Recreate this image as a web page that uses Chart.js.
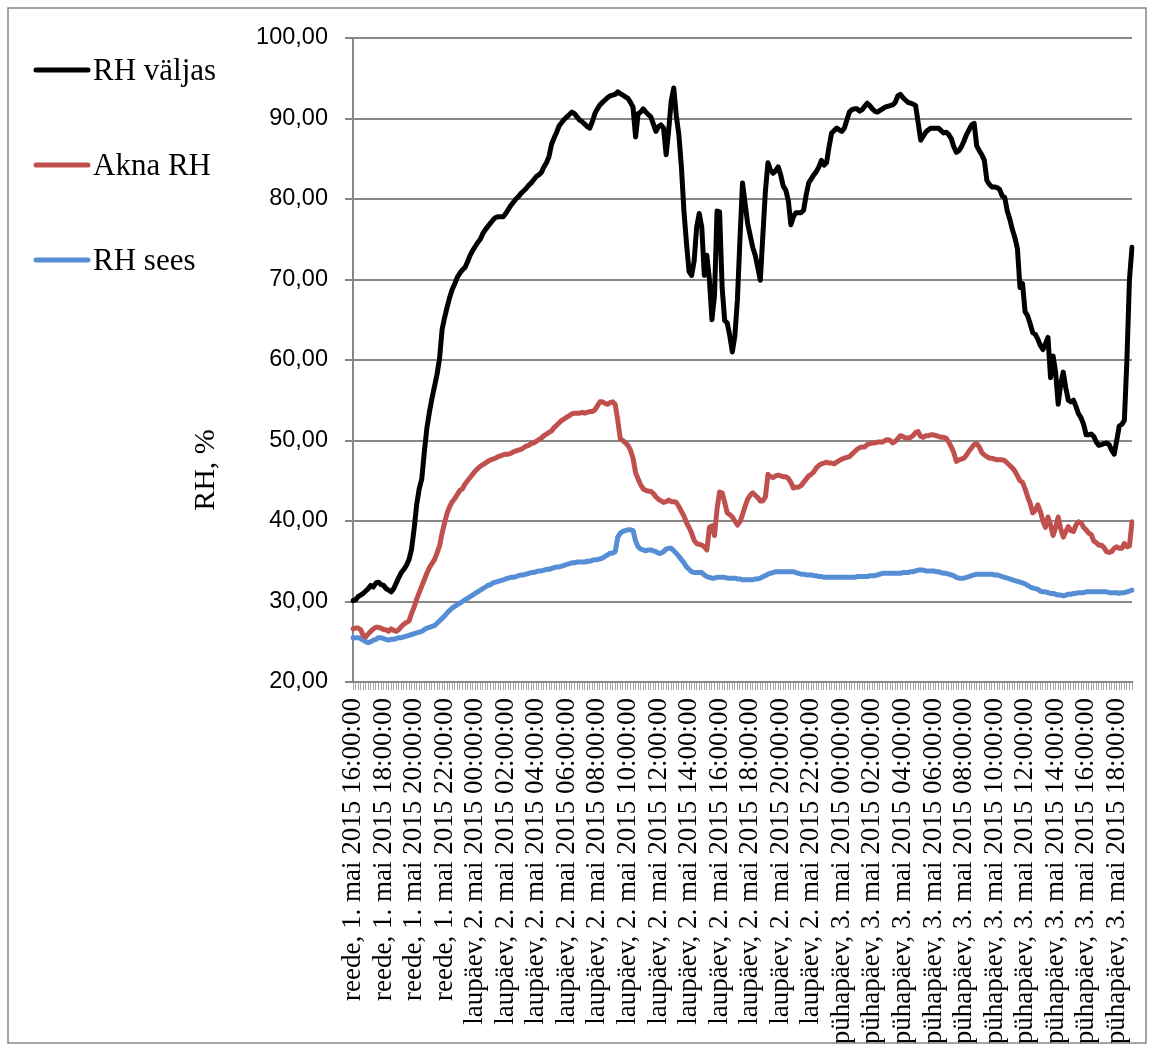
<!DOCTYPE html>
<html>
<head>
<meta charset="utf-8">
<title>RH</title>
<script src="https://cdn.jsdelivr.net/npm/chart.js@4/dist/chart.umd.min.js"></script>
<style>
  html, body { margin: 0; padding: 0; background: #fff; }
  canvas { display: block; }
</style>
</head>
<body>
<canvas id="rhChart" width="1153" height="1052"></canvas>
<script>
// Axis labels shown every 2 hours (every 12th 10-minute reading)
const tickLabels = [
  "reede, 1. mai 2015 16:00:00", "reede, 1. mai 2015 18:00:00",
  "reede, 1. mai 2015 20:00:00", "reede, 1. mai 2015 22:00:00",
  "laupäev, 2. mai 2015 00:00:00", "laupäev, 2. mai 2015 02:00:00",
  "laupäev, 2. mai 2015 04:00:00", "laupäev, 2. mai 2015 06:00:00",
  "laupäev, 2. mai 2015 08:00:00", "laupäev, 2. mai 2015 10:00:00",
  "laupäev, 2. mai 2015 12:00:00", "laupäev, 2. mai 2015 14:00:00",
  "laupäev, 2. mai 2015 16:00:00", "laupäev, 2. mai 2015 18:00:00",
  "laupäev, 2. mai 2015 20:00:00", "laupäev, 2. mai 2015 22:00:00",
  "pühapäev, 3. mai 2015 00:00:00", "pühapäev, 3. mai 2015 02:00:00",
  "pühapäev, 3. mai 2015 04:00:00", "pühapäev, 3. mai 2015 06:00:00",
  "pühapäev, 3. mai 2015 08:00:00", "pühapäev, 3. mai 2015 10:00:00",
  "pühapäev, 3. mai 2015 12:00:00", "pühapäev, 3. mai 2015 14:00:00",
  "pühapäev, 3. mai 2015 16:00:00", "pühapäev, 3. mai 2015 18:00:00"
];
const dayNames = ["reede", "laupäev", "pühapäev"];
const yTitle = "RH, %";

// 10-minute readings, one row per hour starting Fri 16:00
const rhValjas = [
  30.1, 30.2, 30.6, 30.8, 31.0, 31.3,
  31.6, 32.0, 31.8, 32.3, 32.4, 32.1,
  32.0, 31.6, 31.4, 31.2, 31.6, 32.3,
  33.0, 33.6, 34.0, 34.5, 35.2, 36.5,
  39.0, 42.0, 44.0, 45.2, 48.5, 51.5,
  53.5, 55.2, 56.7, 58.2, 60.2, 63.8,
  65.3, 66.6, 67.8, 68.8, 69.5, 70.3,
  70.8, 71.2, 71.5, 72.2, 73.0, 73.6,
  74.1, 74.6, 75.0, 75.7, 76.2, 76.6,
  77.0, 77.4, 77.7, 77.8, 77.8, 77.8,
  78.2, 78.7, 79.2, 79.6, 80.0, 80.3,
  80.7, 81.0, 81.3, 81.7, 82.0, 82.4,
  82.8, 83.0, 83.3, 84.0, 84.5, 85.3,
  86.8, 87.6, 88.3, 89.1, 89.5, 89.9,
  90.2, 90.5, 90.8, 90.6, 90.2, 89.8,
  89.6, 89.3, 89.0, 88.8, 89.6, 90.6,
  91.2, 91.7, 92.0, 92.3, 92.6, 92.8,
  92.9, 93.0, 93.3, 93.1, 92.9, 92.7,
  92.5, 92.0, 91.4, 87.7, 90.6, 90.8,
  91.2, 90.8, 90.5, 90.2, 89.3, 88.4,
  89.0, 89.2, 88.8, 85.5, 88.5, 92.2,
  93.8, 90.3, 88.0, 84.0, 78.5, 74.5,
  71.0, 70.5, 72.3, 76.5, 78.2, 76.5,
  70.5, 73.0, 70.0, 65.0, 68.0, 78.5,
  78.4, 69.0, 64.9, 64.6, 63.0, 61.0,
  63.0, 67.5, 75.0, 82.0, 79.5, 77.0,
  75.5, 74.0, 73.0, 71.5, 69.9, 75.5,
  81.0, 84.5, 83.6, 83.2, 83.5, 84.0,
  83.0, 81.6, 81.1, 79.8, 76.8, 77.8,
  78.3, 78.3, 78.3, 78.6, 80.5, 82.0,
  82.5, 83.0, 83.4, 84.0, 84.8, 84.2,
  84.5, 86.5, 88.2, 88.5, 88.8, 88.6,
  88.4, 88.8, 89.8, 90.8, 91.1, 91.2,
  91.2, 90.9, 91.1, 91.5, 91.9, 91.6,
  91.2, 90.9, 90.8, 91.0, 91.2, 91.4,
  91.5, 91.6, 91.7, 92.0, 92.8, 93.0,
  92.6, 92.3, 92.0, 91.9, 91.8, 91.6,
  89.5, 87.3, 87.8, 88.3, 88.6, 88.8,
  88.8, 88.8, 88.8, 88.5, 88.2, 88.3,
  88.0, 87.5, 86.5, 85.8, 86.0, 86.5,
  87.2, 88.0, 88.6, 89.2, 89.4, 86.6,
  86.0, 85.5, 84.8, 82.3, 81.8, 81.5,
  81.5, 81.4, 81.2, 80.4, 80.2, 78.5,
  77.5, 76.2, 75.2, 73.8, 69.0, 69.5,
  66.0, 65.5, 64.5, 63.4, 63.2, 62.6,
  61.8, 61.3, 62.0, 62.8, 57.8, 60.5,
  58.5, 54.5, 57.0, 58.5, 56.5, 55.0,
  54.8, 55.0, 54.2, 53.3, 52.8, 52.0,
  50.7, 50.7, 50.8, 50.5, 49.8, 49.4,
  49.5, 49.6, 49.7, 49.5, 48.8, 48.3,
  50.0, 51.8, 52.0, 52.5, 60.0, 70.0,
  74.0
];

const aknaRH = [
  26.6, 26.7, 26.7, 26.5, 25.8, 25.6,
  26.0, 26.3, 26.6, 26.8, 26.8, 26.7,
  26.5, 26.5, 26.3, 26.6, 26.4, 26.3,
  26.5, 26.9, 27.2, 27.4, 27.6, 28.5,
  29.3, 30.3, 31.1, 31.9, 32.7, 33.5,
  34.2, 34.7, 35.2, 36.0, 36.9, 38.5,
  39.8, 41.0, 41.8, 42.4, 42.8, 43.3,
  43.8, 44.0, 44.6, 45.0, 45.4, 45.8,
  46.2, 46.5, 46.8, 47.0, 47.2, 47.4,
  47.6, 47.7, 47.8, 48.0, 48.1, 48.2,
  48.3, 48.3, 48.4, 48.6, 48.7, 48.8,
  48.9, 49.1, 49.3, 49.4, 49.6, 49.7,
  49.9, 50.1, 50.3, 50.6, 50.8, 51.0,
  51.2, 51.6, 51.9, 52.2, 52.5, 52.7,
  52.9, 53.1, 53.3, 53.4, 53.4, 53.4,
  53.5, 53.4, 53.5, 53.6, 53.6, 53.8,
  54.3, 54.8, 54.8, 54.6, 54.5, 54.7,
  54.8, 54.5, 52.5, 50.2, 50.0, 49.7,
  49.4, 48.8, 47.8, 46.0, 45.2, 44.5,
  44.0, 43.8, 43.7, 43.7, 43.4, 43.0,
  42.7, 42.5, 42.3, 42.4, 42.6, 42.4,
  42.4, 42.3, 41.8, 41.2, 40.6, 39.8,
  39.2, 38.5, 37.6, 37.2, 37.1, 37.0,
  36.8, 36.4, 39.2, 39.4, 38.2, 41.5,
  43.6, 43.5, 42.3, 41.0, 40.8, 40.5,
  40.0, 39.5, 39.9, 40.8, 41.8, 42.7,
  43.2, 43.5, 43.2, 42.9, 42.5, 42.5,
  43.0, 45.8, 45.5, 45.4, 45.6, 45.7,
  45.6, 45.5, 45.5, 45.3, 44.8, 44.1,
  44.2, 44.2, 44.4, 44.8, 45.2, 45.6,
  45.8, 46.1, 46.6, 46.9, 47.1, 47.2,
  47.3, 47.2, 47.2, 47.1, 47.3, 47.5,
  47.7, 47.8, 47.9, 48.0, 48.3, 48.6,
  48.9, 49.1, 49.2, 49.2, 49.5, 49.6,
  49.7, 49.7, 49.8, 49.8, 49.8, 50.0,
  50.1, 50.0, 49.7, 49.9, 50.2, 50.6,
  50.5, 50.3, 50.3, 50.4, 50.6, 51.0,
  51.1, 50.5, 50.4, 50.6, 50.6, 50.7,
  50.7, 50.6, 50.5, 50.4, 50.4, 50.3,
  49.8, 49.2, 48.5, 47.4, 47.6, 47.7,
  47.8, 48.2, 48.7, 49.1, 49.5, 49.6,
  49.2, 48.5, 48.2, 48.0, 47.8, 47.8,
  47.7, 47.6, 47.6, 47.6, 47.5, 47.2,
  46.9, 46.6, 46.2, 45.6, 45.0, 44.8,
  44.0, 43.0, 42.2, 41.0, 41.3, 42.0,
  41.2, 40.0, 39.2, 40.5, 39.5, 38.2,
  39.2, 40.5, 39.0, 38.0, 38.7, 39.3,
  38.8, 38.7, 39.5, 39.9, 39.8, 39.2,
  38.9, 38.5, 38.3, 37.5, 37.3, 37.0,
  37.0, 36.7, 36.2, 36.1, 36.2, 36.6,
  36.8, 36.6, 36.6, 37.2, 36.8, 36.9,
  39.9
];

const rhSees = [
  25.5, 25.5, 25.5, 25.4, 25.2, 25.0,
  24.9, 25.0, 25.2, 25.3, 25.5, 25.5,
  25.4, 25.3, 25.2, 25.3, 25.3, 25.4,
  25.5, 25.5, 25.6, 25.7, 25.8, 25.9,
  26.0, 26.1, 26.2, 26.3, 26.5, 26.7,
  26.8, 26.9, 27.0, 27.3, 27.6, 27.9,
  28.2, 28.6, 28.9, 29.2, 29.4, 29.6,
  29.8, 30.0, 30.2, 30.4, 30.6, 30.8,
  31.0, 31.2, 31.4, 31.6, 31.8, 32.0,
  32.1, 32.3, 32.4, 32.5, 32.6, 32.7,
  32.8, 32.9, 33.0, 33.0, 33.1, 33.2,
  33.3, 33.3, 33.4, 33.5, 33.6, 33.6,
  33.7, 33.8, 33.8, 33.9, 34.0, 34.0,
  34.1, 34.2, 34.3, 34.3, 34.4, 34.5,
  34.6, 34.7, 34.8, 34.8, 34.9, 34.9,
  34.9, 34.9, 35.0, 35.0, 35.1, 35.2,
  35.2, 35.3, 35.4, 35.6, 35.8, 36.0,
  36.0, 36.2, 38.0, 38.5, 38.7, 38.8,
  38.9, 38.9, 38.8, 37.5, 36.8, 36.5,
  36.4, 36.3, 36.4, 36.4, 36.3, 36.2,
  36.0, 36.0, 36.2, 36.5, 36.6, 36.6,
  36.3, 36.0, 35.6, 35.2, 34.8, 34.3,
  34.0, 33.7, 33.6, 33.6, 33.6, 33.6,
  33.3, 33.1, 33.0, 32.9, 32.9, 33.0,
  33.0, 33.0, 33.0, 32.9, 32.9, 32.9,
  32.9, 32.8, 32.8, 32.7, 32.7, 32.7,
  32.7, 32.7, 32.8, 32.8, 32.9, 33.1,
  33.2, 33.4, 33.5, 33.6, 33.7, 33.7,
  33.7, 33.7, 33.7, 33.7, 33.7, 33.7,
  33.6, 33.5, 33.4, 33.4, 33.3, 33.3,
  33.3, 33.2, 33.2, 33.1, 33.1, 33.0,
  33.0, 33.0, 33.0, 33.0, 33.0, 33.0,
  33.0, 33.0, 33.0, 33.0, 33.0, 33.0,
  33.1, 33.1, 33.1, 33.1, 33.1, 33.2,
  33.2, 33.2, 33.3, 33.4, 33.5, 33.5,
  33.5, 33.5, 33.5, 33.5, 33.5, 33.5,
  33.6, 33.6, 33.6, 33.7, 33.7, 33.8,
  33.9, 33.9, 33.9, 33.8, 33.8, 33.8,
  33.8, 33.7, 33.7, 33.6, 33.5, 33.5,
  33.4, 33.3, 33.2, 33.0, 32.9, 32.9,
  32.9, 33.0, 33.1, 33.2, 33.3, 33.4,
  33.4, 33.4, 33.4, 33.4, 33.4, 33.4,
  33.3, 33.3, 33.2, 33.1, 33.0, 32.9,
  32.8, 32.7, 32.6, 32.5, 32.4, 32.3,
  32.2, 32.0, 31.8, 31.7, 31.6, 31.5,
  31.3, 31.2, 31.2, 31.1, 31.0, 31.0,
  30.9, 30.8, 30.8, 30.7, 30.8, 30.9,
  30.9, 31.0, 31.0, 31.1, 31.1, 31.1,
  31.2, 31.2, 31.2, 31.2, 31.2, 31.2,
  31.2, 31.2, 31.2, 31.1, 31.1, 31.1,
  31.1, 31.0, 31.1, 31.1, 31.2, 31.3,
  31.4
];

// One category per 10-minute reading
const categories = rhValjas.map((v, i) => {
  const mins = 16 * 60 + i * 10;
  const day = Math.floor(mins / 1440);
  const hh = String(Math.floor((mins % 1440) / 60)).padStart(2, "0");
  const mm = String(mins % 60).padStart(2, "0");
  return dayNames[day] + " " + hh + ":" + mm;
});

const SERIF = "'Liberation Serif', 'Times New Roman', serif";
const SANS = "'Liberation Sans', Arial, sans-serif";
const AXIS_GREY = "#878787";

// Legend on the left side, y-axis title and the outer frame
const sideLegend = {
  id: "sideLegend",
  afterDraw(chart) {
    const ctx = chart.ctx;
    ctx.save();
    ctx.strokeStyle = AXIS_GREY;
    ctx.lineWidth = 1.5;
    ctx.strokeRect(8, 8, 1138, 1035);

    ctx.font = "31px " + SERIF;
    ctx.textBaseline = "middle";
    ctx.textAlign = "left";
    chart.data.datasets.forEach((ds, i) => {
      const y = 70 + i * 95;
      ctx.strokeStyle = ds.borderColor;
      ctx.lineWidth = 5;
      ctx.lineCap = "round";
      ctx.beginPath();
      ctx.moveTo(36, y);
      ctx.lineTo(88, y);
      ctx.stroke();
      ctx.fillStyle = "#000";
      ctx.fillText(ds.label, 93, y + 2);
    });

    ctx.translate(206, 470);
    ctx.rotate(-Math.PI / 2);
    ctx.textAlign = "center";
    ctx.font = "30px " + SERIF;
    ctx.fillText(yTitle, 0, 0);
    ctx.restore();
  }
};

function makeSeries(label, data, color) {
  return {
    label: label,
    data: data,
    borderColor: color,
    backgroundColor: color,
    borderWidth: 5,
    pointRadius: 0,
    tension: 0,
    borderJoinStyle: "round",
    borderCapStyle: "round"
  };
}

const ctx = document.getElementById("rhChart").getContext("2d");
new Chart(ctx, {
  type: "line",
  data: {
    labels: categories,
    datasets: [
      makeSeries("RH väljas", rhValjas, "#000000"),
      makeSeries("Akna RH", aknaRH, "#C0504D"),
      makeSeries("RH sees", rhSees, "#558ED5")
    ]
  },
  options: {
    responsive: false,
    animation: false,
    devicePixelRatio: 1,
    layout: { padding: { left: 0, top: 38, right: 21, bottom: 0 } },
    plugins: {
      legend: { display: false },
      tooltip: { enabled: false }
    },
    scales: {
      x: {
        offset: false,
        afterFit: (scale) => {
          scale.height = 370;
          scale.paddingLeft = 0;
          scale.paddingRight = 0;
        },
        grid: {
          drawOnChartArea: false,
          drawTicks: true,
          tickLength: 8,
          color: "#a8a8a8",
          lineWidth: 1
        },
        border: { color: AXIS_GREY, width: 2 },
        ticks: {
          autoSkip: false,
          maxRotation: 90,
          minRotation: 90,
          padding: 8,
          color: "#000",
          font: { family: SERIF, size: 27 },
          callback: (value, index) => (index % 12 === 0 ? tickLabels[index / 12] : "")
        }
      },
      y: {
        min: 20,
        max: 100,
        afterFit: (scale) => { scale.width = 353; },
        grid: {
          color: AXIS_GREY,
          lineWidth: 2,
          tickLength: 8
        },
        border: { color: AXIS_GREY, width: 2 },
        ticks: {
          stepSize: 10,
          padding: 17,
          color: "#000",
          font: { family: SANS, size: 23.5 },
          callback: (v) => v.toFixed(2).replace(".", ",")
        }
      }
    }
  },
  plugins: [sideLegend]
});
</script>
</body>
</html>
